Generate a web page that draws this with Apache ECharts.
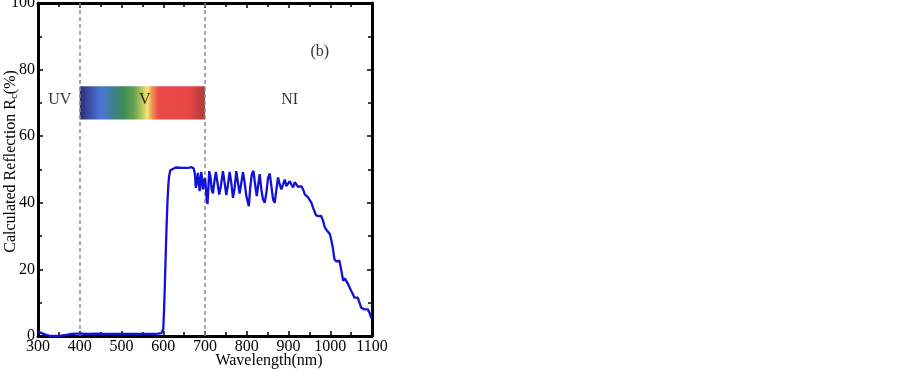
<!DOCTYPE html>
<html>
<head>
<meta charset="utf-8">
<title>Calculated Reflection</title>
<script src="https://cdn.jsdelivr.net/npm/echarts@6/dist/echarts.min.js"></script>
<style>
html, body { margin: 0; padding: 0; background: #fff; }
#curve { width: 903px; height: 369px; }
</style>
</head>
<body>
<div id="curve"></div>
<script>
// 波长 (nm)
var wavelength = [300, 304, 310, 318, 326, 335, 345, 355, 368, 380, 392, 405, 420, 440, 460, 480, 500, 520, 540, 560, 575, 588, 596,
    600, 602, 604, 606, 608, 610, 612, 614, 617, 621, 630, 645, 660, 668, 673, 676, 678, 680, 683, 685, 687, 689, 691, 693, 695, 698,
    700, 702, 704, 706, 708, 710, 713, 716, 719, 722, 726, 730, 734, 738, 743, 747, 751, 755, 759, 763, 767, 771, 775, 779, 783, 787,
    791, 795, 799, 802, 805, 808, 812, 816, 820, 824, 827, 831, 835, 839, 843, 847, 851, 855, 859, 863, 867, 871, 875, 879, 883, 887,
    891, 895, 899, 903, 907, 911, 915, 919, 923, 927, 931, 935, 939, 943, 947, 951, 955, 959, 963, 966, 972, 978, 983, 987, 993, 999,
    1003, 1006, 1010, 1014, 1018, 1022, 1026, 1031, 1035, 1038, 1043, 1050, 1054, 1058, 1062, 1066, 1070, 1074, 1078, 1082, 1086, 1090,
    1094, 1098, 1100];
// 反射率 Rc (%)
var reflection = [1.3, 1.1, 0.8, 0.4, 0.1, 0.0, 0.0, 0.1, 0.3, 0.6, 0.7, 0.7, 0.6, 0.7, 0.6, 0.6, 0.6, 0.6, 0.6, 0.6, 0.6, 0.7, 0.9,
    2.0, 8, 16, 25, 33, 40, 45, 48, 49.8, 50.4, 50.6, 50.5, 50.5, 50.7, 50.3, 48.5, 44.5, 45.5, 49, 47, 43.5, 46, 49.2, 47, 44, 46.5,
    47.5, 45, 41, 39.6, 44, 49.5, 48, 44, 42.8, 46, 49.3, 46, 42.5, 45, 49.5, 46, 42.3, 45.5, 49.3, 46, 41.5, 44.5, 49.5, 46, 42.8, 46,
    49.2, 46, 42, 40.5, 39, 44, 48.5, 49.6, 45.5, 42, 45, 48.6, 44, 41, 40, 43, 47.5, 48.8, 45, 41, 40, 44, 47.6, 45.5, 44, 45.5,
    47, 45, 44.5, 46.5, 45.5, 44.6, 46.2, 45.5, 44.8, 45.3, 45, 44, 42.5, 42, 41.6, 41, 40, 38.5, 38.2, 36.2, 36, 36.1, 34.5, 32.6, 31.5, 30.6,
    28.5, 26.6, 23.1, 22.4, 22.8, 22.6, 20, 16.6, 17.3, 17.1, 15.5, 13.6, 12.6, 11.5, 11.6, 11.5, 10, 8.5, 8.2, 8.0, 8.2, 8.0,
    7, 5.5, 5.3];
// 区域分界线
var bandLines = [400, 700];
// 可见光色带范围 [起始波长, 结束波长, 下限, 上限]
var spectrumBand = [400, 700, 65, 75];
// 标注文字
var noteText = ['UV', 'V', 'NI', '(b)'];
var noteX = [352, 556, 903, 975];
var noteY = [71, 71, 71, 85.4];

var serif = 'Liberation Serif';

var myChart = echarts.init(document.getElementById('curve'));

var curveData = wavelength.map(function(w, i) {
    return [w, reflection[i]];
});
var noteData = noteText.map(function(t, i) {
    return { name: t, value: [noteX[i], noteY[i]] };
});

// 坐标轴通用样式
function frameAxis(pos, showLabel) {
    return {
        type: 'value',
        position: pos,
        axisLine: { show: true, onZero: false, lineStyle: { color: '#000', width: 3 } },
        axisTick: { show: true, inside: true, length: 5, lineStyle: { color: '#000', width: 1.5 } },
        minorTick: { show: true, splitNumber: 2, length: 4, lineStyle: { color: '#000', width: 1.5 } },
        splitLine: { show: false },
        minorSplitLine: { show: false },
        axisLabel: {
            show: showLabel,
            color: '#000',
            fontFamily: serif,
            fontSize: 16,
            formatter: function(v) { return String(v); }
        }
    };
}

var xBottom = frameAxis('bottom', true);
xBottom.min = 300; xBottom.max = 1100; xBottom.interval = 100;
xBottom.axisLabel.margin = 3;
xBottom.name = 'Wavelength(nm)';
xBottom.nameLocation = 'middle';
xBottom.nameGap = 17;
xBottom.nameMoveOverlap = false;
xBottom.nameTextStyle = { color: '#000', fontFamily: serif, fontSize: 16, padding: [0, 0, 0, 128] };
var xTop = frameAxis('top', false);
xTop.min = 300; xTop.max = 1100; xTop.interval = 100;

var yLeft = frameAxis('left', true);
yLeft.min = 0; yLeft.max = 100; yLeft.interval = 20;
yLeft.axisLabel.margin = 3;
yLeft.name = '{a|Calculated Reflection R}{b|c}{a|(%)}';
yLeft.nameLocation = 'middle';
yLeft.nameRotate = 90;
yLeft.nameGap = 18;
yLeft.nameMoveOverlap = false;
yLeft.nameTextStyle = {
    padding: [0, 0, 0, 16],
    rich: {
        a: { color: '#000', fontFamily: serif, fontSize: 16 },
        b: { color: '#000', fontFamily: serif, fontSize: 11, padding: [8, 0, 0, 0] }
    }
};
var yRight = frameAxis('right', false);
yRight.min = 0; yRight.max = 100; yRight.interval = 20;

var option = {
    animation: false,
    grid: { left: 38, right: 531, top: 3, bottom: 33, containLabel: false, outerBoundsMode: 'none' },
    xAxis: [xBottom, xTop],
    yAxis: [yLeft, yRight],
    series: [
        {
            name: 'Rc',
            type: 'line',
            data: curveData,
            showSymbol: false,
            lineStyle: { color: '#1212d6', width: 2.3 },
            z: 5,
            markLine: {
                silent: true,
                symbol: 'none',
                label: { show: false },
                lineStyle: { color: '#8c8c8c', type: [4, 3], width: 1.5 },
                data: bandLines.map(function(v) { return { xAxis: v }; })
            },
            markArea: {
                silent: true,
                itemStyle: {
                    color: new echarts.graphic.LinearGradient(0, 0, 1, 0, [
                        { offset: 0, color: '#2e2c6c' },
                        { offset: 0.07, color: '#3a4aa4' },
                        { offset: 0.17, color: '#4a76d6' },
                        { offset: 0.25, color: '#427e9c' },
                        { offset: 0.34, color: '#3c8a5c' },
                        { offset: 0.43, color: '#66a052' },
                        { offset: 0.5, color: '#bcc862' },
                        { offset: 0.54, color: '#f2e66e' },
                        { offset: 0.58, color: '#ec8c52' },
                        { offset: 0.63, color: '#ea4a4a' },
                        { offset: 0.88, color: '#e84646' },
                        { offset: 1, color: '#ac3a3a' }
                    ])
                },
                data: [[
                    { xAxis: spectrumBand[0], yAxis: spectrumBand[2] },
                    { xAxis: spectrumBand[1], yAxis: spectrumBand[3] }
                ]]
            }
        },
        {
            // 标注
            type: 'scatter',
            data: noteData,
            symbolSize: 0,
            silent: true,
            z: 10,
            label: {
                show: true,
                position: 'inside',
                formatter: '{b}',
                color: '#000',
                fontFamily: serif,
                fontSize: 16
            }
        }
    ]
};

myChart.setOption(option);
window.onresize = myChart.resize;
</script>
</body>
</html>
